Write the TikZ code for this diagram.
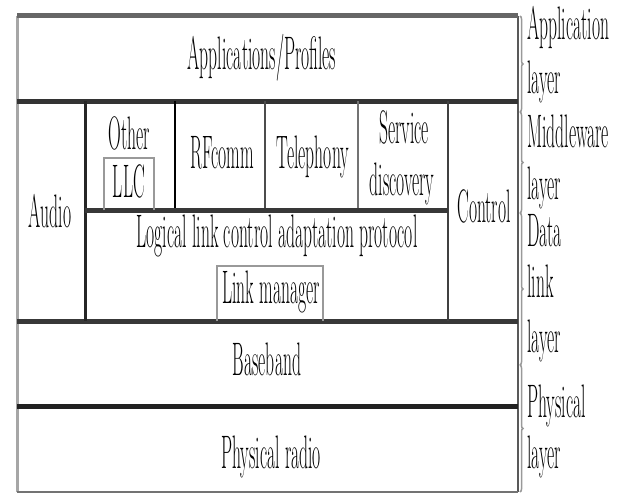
\documentclass[tikz,border=0pt]{standalone}
\usetikzlibrary{decorations.pathreplacing}
\newcommand{\sqz}[1]{\scalebox{0.375}[1]{#1}}
\begin{document}
\begin{tikzpicture}[x=1pt,y=-1pt,
  lbl/.style={inner sep=0pt, font=\fontsize{47}{50}\selectfont, text=black, anchor=base},
  rlbl/.style={lbl, anchor=base west},
  heavy/.style={line width=5pt, draw=black!80},
  sep/.style={line width=2.5pt},
  inbox/.style={draw=black!40, line width=2pt},
  brc/.style={decorate, decoration={brace, amplitude=3pt}, draw=black!40, line width=1.5pt}]
\useasboundingbox (0,0) rectangle (624,495);
\fill[white] (0,0) rectangle (624,495);
% outer box
\draw[line width=3pt, draw=black!35] (17,16) -- (17,492);
\draw[line width=2pt, draw=black!65] (518,16) -- (518,492);
\draw[line width=2pt, draw=black!55] (17,492) -- (518,492);
\draw[line width=5pt, draw=black!60] (17,16) -- (518,16);
% main horizontal layers
\draw[heavy] (17,101) -- (518,101);
\draw[heavy, draw=black!78] (17,321) -- (518,321);
\draw[heavy, draw=black!87] (17,406) -- (518,406);
% verticals of the middle band
\draw[sep, line width=3pt, draw=black!85] (85,101) -- (85,321);
\draw[sep, draw=black!75] (448,101) -- (448,321);
\draw[sep, draw=black] (175,101) -- (175,210);
\draw[sep, draw=black!70] (265,101) -- (265,210);
\draw[sep, line width=2pt, draw=black!55] (358,101) -- (358,210);
\draw[heavy, draw=black!78] (85,210) -- (448,210);
% inner boxes
\draw[inbox] (104,210) -- (104,158) -- (154,158) -- (154,210);
\draw[inbox, line width=2.5pt] (217,321) -- (217,266) -- (323,266) -- (323,321);
% texts
\node[lbl] (app) at (262,70) {\sqz{Applications/Profiles}};
\node[lbl] (audio) at (50,227) {\sqz{Audio}};
\node[lbl] (other) at (129,149) {\sqz{Other}};
\node[lbl] (llc) at (129,197) {\sqz{LLC}};
\node[lbl] (rfcomm) at (222,168) {\sqz{RFcomm}};
\node[lbl] (tel) at (313,168) {\sqz{Telephony}};
\node[lbl] (serv) at (404,143) {\sqz{Service}};
\node[lbl] (disc) at (402,195) {\sqz{discovery}};
\node[lbl] (ctrl) at (484,222) {\sqz{Control}};
\node[lbl] (l2cap) at (277,247) {\sqz{Logical link control adaptation protocol}};
\node[lbl] (lm) at (271,303) {\sqz{Link manager}};
\node[lbl] (bb) at (267,375) {\sqz{Baseband}};
\node[lbl] (radio) at (271,468) {\sqz{Physical radio}};
% right side braces
\draw[brc] (520,16) -- (520,112);
\draw[brc] (520,112) -- (520,213);
\draw[brc] (520,213) -- (520,365);
\draw[brc] (520,365) -- (520,492);
\node[rlbl] (r1) at (527,40) {\sqz{Application}};
\node[rlbl] (r2) at (527,93) {\sqz{layer}};
\node[rlbl] (r3) at (527,147) {\sqz{Middleware}};
\node[rlbl] (r4) at (527,199) {\sqz{layer}};
\node[rlbl] (r5) at (527,246) {\sqz{Data}};
\node[rlbl] (r6) at (527,297) {\sqz{link}};
\node[rlbl] (r7) at (527,352) {\sqz{layer}};
\node[rlbl] (r8) at (527,417) {\sqz{Physical}};
\node[rlbl] (r9) at (527,468) {\sqz{layer}};
\end{tikzpicture}
\end{document}
